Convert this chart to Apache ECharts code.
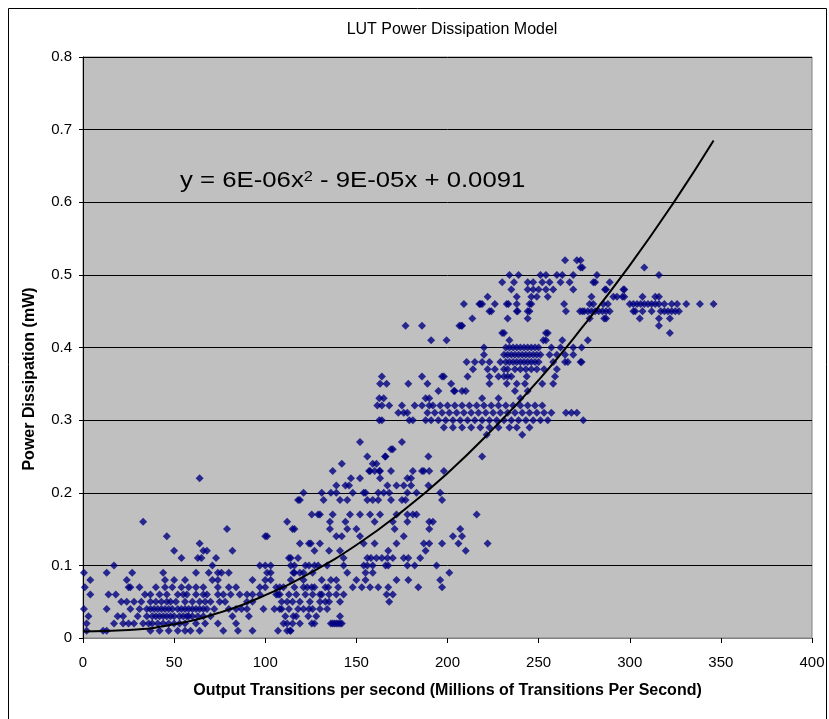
<!DOCTYPE html>
<html>
<head>
<meta charset="utf-8">
<title>LUT Power Dissipation Model</title>
<script src="https://cdn.jsdelivr.net/npm/echarts@6/dist/echarts.min.js"></script>
<style>
  html, body { margin: 0; padding: 0; background: #fff; }
  #main { width: 829px; height: 719px; }
</style>
</head>
<body>
<div id="main"></div>
<script>
// measured points, one row per power level: [power (mW), [transitions ...]]
var lowRows = [
  [0.01, [2, 11, 13, 37, 42, 47, 52, 56, 59, 64, 77, 85, 93]],
  [0.02, [2, 17, 22, 25, 28, 33, 36, 38, 41, 44, 47, 50, 53, 56, 62, 67, 74, 84]],
  [0.03, [3, 19, 22, 30, 35, 38, 40, 42, 44, 46, 48, 50, 53, 55, 57, 58, 60, 63, 66, 70, 82, 91]],
  [0.04, [0.5, 13, 26, 31, 35, 37, 39, 41, 43, 45, 47, 49, 52, 54, 56, 58, 60, 62, 64, 66, 68, 72, 80, 84, 87, 90, 99]],
  [0.05, [21, 24, 28, 32, 37, 40, 43, 46, 48, 51, 56, 60, 64, 67, 70, 75, 78, 90, 93]],
  [0.06, [4, 14, 18, 34, 37, 42, 46, 52, 55, 57, 62, 66, 68, 74, 77, 81, 86, 90, 93, 97, 106]],
  [0.07, [1, 25, 26, 31, 40, 45, 49, 54, 58, 62, 66, 74, 80, 84, 97, 100]],
  [0.08, [4, 24, 45, 50, 56, 71, 74, 93, 100]],
  [0.09, [0.5, 13, 27, 44, 62, 69, 74, 76, 80, 101]],
  [0.10, [17, 71, 97, 100]],
  [0.11, [54, 63, 65, 73]],
  [0.12, [50, 66, 68, 82]],
  [0.13, [64]],
  [0.14, [46, 101]],
  [0.15, [79]],
  [0.16, [33]],
  [0.22, [64]]
];

var midRows = [
  [0.01, [107, 112, 113.6, 114]],
  [0.02, [110, 112, 115, 119, 125.5, 127, 136, 137, 138, 139, 140, 141, 142]],
  [0.03, [111, 115.4, 117, 123.6, 128, 141]],
  [0.04, [105, 108, 109, 113, 118, 121, 124, 126, 130, 134]],
  [0.05, [109, 112, 115, 119, 124.5, 130, 133, 135, 141, 168]],
  [0.06, [107, 108, 113, 117, 122, 126, 130, 131, 135, 139, 143, 166.6, 170]],
  [0.07, [106, 108, 110, 116, 121, 123, 125.5, 127, 133, 134.6, 140, 148, 153, 157.5, 162, 167.5, 184, 197]],
  [0.08, [103, 114, 121, 131, 136, 139, 150, 155, 172, 178.5, 196]],
  [0.09, [103, 115.4, 116, 119, 121, 126, 145, 155, 159, 201]],
  [0.10, [103, 114, 116, 122, 124, 127, 129, 134, 143, 154, 156, 159, 166, 167.5, 178, 182, 194]],
  [0.11, [113, 114, 118, 143, 156, 158, 161, 164, 167, 170, 176, 178.5, 185]],
  [0.12, [127, 135, 141, 167.5, 188, 210]],
  [0.13, [119, 124, 125, 130, 154, 160, 172, 187, 190, 197, 206, 222]],
  [0.14, [100, 139, 142, 152, 176, 203, 208]],
  [0.15, [115, 116, 135.5, 145, 150, 171, 190, 207]],
  [0.16, [112, 135.5, 144, 160, 170, 178, 190, 192]],
  [0.17, [125.5, 129, 130, 137, 146.5, 152, 157.5, 163, 172, 178, 181, 183, 216]],
  [0.19, [118, 119, 132, 141, 145, 156, 159, 162, 169, 175, 177, 197]],
  [0.20, [121, 131, 136, 139, 148, 154, 155, 162, 165, 168, 178, 183, 196]],
  [0.21, [139, 144, 146, 167, 172, 176, 180, 189.5]],
  [0.22, [147, 152, 163, 178, 180]],
  [0.23, [137, 157, 157.5, 160, 162.6, 163, 169, 181, 186, 187, 190, 198]],
  [0.24, [142, 159, 161]],
  [0.25, [156, 165.7, 166, 189.5, 219]],
  [0.26, [169, 170]],
  [0.27, [152, 175]],
  [0.28, [221.5, 241]]
];

var upperRows = [
  [0.29, [198, 203, 208, 213, 218, 223, 228, 234, 238, 245]],
  [0.30, [162.6, 164, 179, 181, 188, 191, 195, 199, 203, 207, 211, 215, 219, 223, 227, 231, 235, 239, 243, 247, 251, 255, 274.5]],
  [0.31, [173, 176, 178, 189, 193, 197, 201, 205, 209, 213, 217, 221, 225, 229, 233, 237, 241, 245, 249, 253, 257, 265, 268, 271]],
  [0.32, [161.5, 164, 168, 175, 182, 186, 190, 192, 196, 200, 204, 208, 212, 216, 220, 224, 228, 232, 236, 240, 244, 248, 252]],
  [0.33, [162.6, 165, 188, 190, 219, 228, 240]],
  [0.34, [195, 203.5, 204, 208, 210, 237, 244]],
  [0.35, [163, 166.6, 178.5, 189, 202, 223, 232.5, 238, 242.5, 252, 258]],
  [0.36, [164, 186, 197, 198, 211, 223, 228, 231, 233, 235, 243.5, 259]],
  [0.37, [214, 222, 226, 231, 233, 237, 240, 243, 246, 249, 253, 260]],
  [0.38, [210.5, 215, 219, 223, 229, 232, 234, 236, 238, 240, 242, 244, 246, 248, 250, 258, 264.5, 266, 273, 273.6]],
  [0.39, [220, 231, 233, 235, 237, 239, 241, 243, 245, 247, 249, 251, 256, 260, 264.5, 269]],
  [0.40, [220, 232, 234, 236, 238, 240, 242, 244, 246, 248, 250, 257, 262, 269, 273.6]],
  [0.41, [191, 199.5, 234, 252.6, 254, 263, 277]],
  [0.42, [230, 231, 254, 255, 322]],
  [0.43, [177, 186, 206.5, 207.5, 208, 316]],
  [0.44, [213.6, 233, 244, 278, 286, 287, 305.5, 316, 322]]
];

var topRows = [
  [0.45, [223, 224, 238, 238.5, 244, 245, 265, 272.7, 274, 275, 277, 279, 281, 283, 285, 287, 289, 302, 303, 307, 312, 317, 319, 321, 323, 325, 327]],
  [0.46, [209, 217.5, 218, 219, 226, 232.5, 233.4, 238, 245, 246, 264, 278, 280, 285.5, 288, 300, 302, 304, 306, 308, 310, 312, 314, 316, 319, 323, 326, 331, 338.5, 346]],
  [0.47, [222, 238, 246, 249, 255, 279, 291, 293, 296, 297, 307, 314, 316]],
  [0.48, [235, 244, 247, 250, 254, 258, 269, 286.4, 287, 296.5, 297]],
  [0.49, [230, 236.5, 244, 247, 252, 256, 262, 267, 280, 281, 289]],
  [0.50, [234, 239, 251, 254, 260, 263, 269, 282, 316]],
  [0.51, [273, 274, 308]],
  [0.52, [264.5, 271, 273]]
];

// trendline
var trendX = [0, 25, 50, 75, 100, 125, 150, 175, 200, 225, 250, 275, 300, 325, 346];
var trendY = [0.009, 0.011, 0.019, 0.035, 0.059, 0.090, 0.128, 0.174, 0.227, 0.288, 0.355, 0.431, 0.513, 0.603, 0.685];

var xTicks = [0, 50, 100, 150, 200, 250, 300, 350, 400];
var yTicks = [0, 0.1, 0.2, 0.3, 0.4, 0.5, 0.6, 0.7, 0.8];

var points = [];
[lowRows, midRows, upperRows, topRows].forEach(function (rows) {
  rows.forEach(function (r) {
    r[1].forEach(function (x) { points.push([x, r[0]]); });
  });
});
var trend = trendX.map(function (x, i) { return [x, trendY[i]]; });

var font = '"Liberation Sans", Arial, sans-serif';
var myChart = echarts.init(document.getElementById('main'));

var option = {
  animation: false,
  backgroundColor: '#ffffff',
  title: {
    text: 'LUT Power Dissipation Model',
    left: 447,
    top: 17,
    textAlign: 'center',
    textStyle: { fontFamily: font, fontSize: 16, fontWeight: 'normal', color: '#000' }
  },
  grid: {
    left: 83, right: 17, top: 57, bottom: 81,
    show: true,
    backgroundColor: '#c0c0c0',
    borderColor: '#808080',
    borderWidth: 1
  },
  xAxis: {
    type: 'value',
    min: xTicks[0], max: xTicks[xTicks.length - 1], interval: 50,
    name: 'Output Transitions per second (Millions of Transitions Per Second)',
    nameLocation: 'middle',
    nameGap: 45,
    nameTextStyle: { fontFamily: font, fontSize: 16, fontWeight: 'bold', color: '#000' },
    axisLine: { lineStyle: { color: '#808080', width: 1 } },
    axisTick: { show: true, length: 5, lineStyle: { color: '#000' } },
    axisLabel: { margin: 17, fontFamily: font, fontSize: 15, color: '#000' },
    splitLine: { show: false }
  },
  yAxis: {
    type: 'value',
    min: yTicks[0], max: yTicks[yTicks.length - 1], interval: 0.1,
    axisLine: { show: true, lineStyle: { color: '#000', width: 1 } },
    axisTick: { show: true, length: 4, lineStyle: { color: '#000' } },
    axisLabel: {
      margin: 11, fontFamily: font, fontSize: 15, color: '#000',
      formatter: function (v) { return String(Math.round(v * 10) / 10); }
    },
    splitLine: { show: true, lineStyle: { color: '#000', width: 1 } }
  },
  graphic: [
    {
      type: 'rect',
      shape: { x: 8.5, y: 8.5, width: 818, height: 730 },
      style: { fill: 'none', stroke: '#000', lineWidth: 1 },
      silent: true
    },
    {
      type: 'text',
      x: 30, y: 379,
      rotation: Math.PI / 2,
      style: {
        text: 'Power Dissipation (mW)',
        font: 'bold 16px ' + font,
        fill: '#000',
        textAlign: 'center',
        textVerticalAlign: 'middle'
      }
    },
    {
      type: 'text',
      x: 180, y: 170,
      scaleX: 1.17,
      z: 10,
      style: {
        text: 'y = 6E-06x{sup|2} - 9E-05x + 0.0091',
        font: '22px ' + font,
        fill: '#000',
        rich: {
          sup: { fontSize: 14, fontFamily: font, verticalAlign: 'top', fill: '#000' }
        }
      }
    }
  ],
  series: [
    {
      type: 'scatter',
      data: points,
      symbol: 'diamond',
      symbolSize: 8,
      itemStyle: { color: '#000080' },
      z: 2
    },
    {
      type: 'line',
      data: trend,
      smooth: true,
      showSymbol: false,
      lineStyle: { color: '#000', width: 2 },
      z: 5
    }
  ]
};

myChart.setOption(option);
</script>
</body>
</html>
